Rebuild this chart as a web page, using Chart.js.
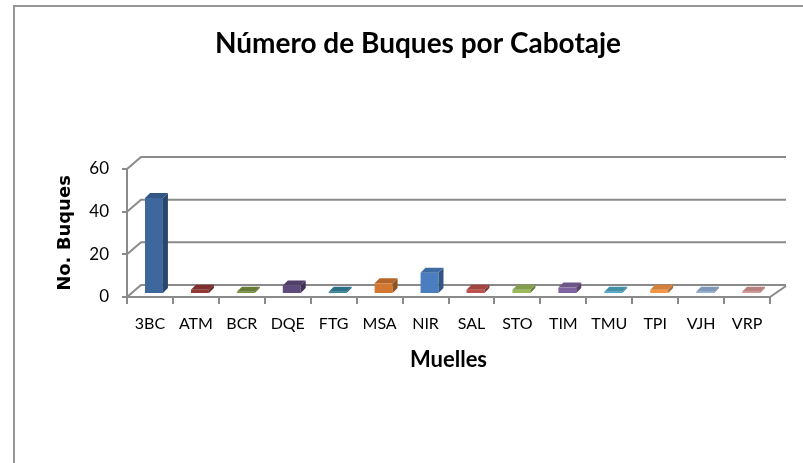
<!DOCTYPE html>
<html>
<head>
<meta charset="utf-8">
<script src="https://cdn.jsdelivr.net/npm/chart.js@4.4.1/dist/chart.umd.min.js"></script>
<style>
  html, body { margin: 0; padding: 0; background: #fff; }
  canvas { display: block; }
</style>
</head>
<body>
<canvas id="c" width="803" height="463"></canvas>
<script>
// ---- data ----
const categories = ['3BC','ATM','BCR','DQE','FTG','MSA','NIR','SAL','STO','TIM','TMU','TPI','VJH','VRP'];
const buques = [45, 2, 1, 4, 1, 5, 10, 2, 2, 3, 1, 2, 1, 1];
const yTickValues = [0, 20, 40, 60];
const chartTitle = 'Número de Buques por Cabotaje';
const xTitle = 'Muelles';
const yTitle = 'No. Buques';

// ---- styles ----
const barColors = ['#3D679D','#953735','#76923C','#5F4A7D','#31859C','#D27830','#4A7EC0',
                   '#C0504D','#9BBB59','#8064A2','#4BACC6','#F79646','#95B3D7','#D99694'];
const lineColor = '#8a8a8a';
const DEPTH_X = 14, DEPTH_Y = 12;   // wall depth
const BAR_DX = 5, BAR_DY = 5;       // bar depth
const BAR_SHIFT_X = 4, BAR_SHIFT_Y = -3;

function shade(hex, f) {
  const n = parseInt(hex.slice(1), 16);
  let r = (n >> 16) & 255, g = (n >> 8) & 255, b = n & 255;
  r = Math.round(r * f); g = Math.round(g * f); b = Math.round(b * f);
  return `rgb(${Math.min(255,r)},${Math.min(255,g)},${Math.min(255,b)})`;
}

const frame3d = {
  id: 'frame3d',
  beforeDraw(chart) {
    const ctx = chart.ctx;
    ctx.save();
    ctx.fillStyle = '#fff';
    ctx.fillRect(0, 0, chart.width, chart.height);
    ctx.strokeStyle = '#969696';
    ctx.lineWidth = 2;
    ctx.beginPath();
    ctx.moveTo(14, chart.height + 2);
    ctx.lineTo(14, 6);
    ctx.lineTo(chart.width + 2, 6);
    ctx.stroke();
    ctx.restore();
  },
  beforeDatasetsDraw(chart) {
    const ctx = chart.ctx;
    const {left, right, bottom} = chart.chartArea;
    const ys = chart.scales.y;
    ctx.save();
    ctx.strokeStyle = lineColor;
    ctx.lineWidth = 2;
    ctx.lineCap = 'butt';
    yTickValues.forEach(v => {
      const y = ys.getPixelForValue(v);
      ctx.beginPath();
      ctx.moveTo(left, y);
      ctx.lineTo(left + DEPTH_X, y - DEPTH_Y);
      ctx.lineTo(right + 16, y - DEPTH_Y);
      ctx.stroke();
    });
    // floor front edge and right edge
    ctx.beginPath();
    ctx.moveTo(left, bottom);
    ctx.lineTo(right, bottom);
    ctx.lineTo(right + 16, bottom - DEPTH_Y + 1);
    ctx.stroke();
    ctx.restore();
    // shift bars to mid-depth
    ctx.save();
    ctx.translate(BAR_SHIFT_X, BAR_SHIFT_Y);
  },
  afterDatasetsDraw(chart) {
    const ctx = chart.ctx;
    const meta = chart.getDatasetMeta(0);
    meta.data.forEach((el, i) => {
      const p = el.getProps(['x','y','base','width'], true);
      const x0 = p.x - p.width / 2, x1 = p.x + p.width / 2;
      const top = Math.min(p.y, p.base), base = Math.max(p.y, p.base);
      const c = barColors[i % barColors.length];
      // side face
      ctx.fillStyle = shade(c, 0.68);
      ctx.beginPath();
      ctx.moveTo(x1, top);
      ctx.lineTo(x1 + BAR_DX, top - BAR_DY);
      ctx.lineTo(x1 + BAR_DX, base - BAR_DY);
      ctx.lineTo(x1, base);
      ctx.closePath();
      ctx.fill();
      // top face
      ctx.fillStyle = shade(c, 0.85);
      ctx.beginPath();
      ctx.moveTo(x0, top);
      ctx.lineTo(x0 + BAR_DX, top - BAR_DY);
      ctx.lineTo(x1 + BAR_DX, top - BAR_DY);
      ctx.lineTo(x1, top);
      ctx.closePath();
      ctx.fill();
    });
    ctx.restore();
  }
};

new Chart(document.getElementById('c'), {
  type: 'bar',
  data: {
    labels: categories,
    datasets: [{
      data: buques,
      backgroundColor: barColors,
      borderWidth: 0,
      barPercentage: 0.39,
      categoryPercentage: 1,
      clip: false
    }]
  },
  options: {
    responsive: false,
    animation: false,
    devicePixelRatio: 1,
    layout: { padding: { left: 33, right: 0, top: 0, bottom: 0 } },
    plugins: {
      legend: { display: false },
      tooltip: { enabled: false },
      title: {
        display: true,
        text: chartTitle,
        color: '#000',
        font: { family: 'Lato', size: 28, weight: 'bold' },
        padding: { top: 27, bottom: 108.4 }
      }
    },
    scales: {
      x: {
        grid: { display: true, drawOnChartArea: false, drawTicks: true, tickLength: 7,
                color: lineColor, lineWidth: 2, offset: true },
        border: { display: false },
        ticks: { color: '#000', font: { family: 'Lato', size: 16 }, padding: 10,
                 maxRotation: 0, autoSkip: false },
        title: { display: true, text: xTitle, color: '#000',
                 font: { family: 'Lato', size: 22, weight: 'bold' },
                 padding: { top: 0, bottom: 90 } },
        afterFit(s) { s.height = 166; }
      },
      y: {
        min: 0, max: 60,
        afterBuildTicks(s) { s.ticks = yTickValues.map(v => ({ value: v })); },
        grid: { display: true, drawOnChartArea: false, tickLength: 5, color: lineColor, lineWidth: 2 },
        border: { display: true, color: lineColor, width: 2 },
        ticks: { color: '#000', font: { family: 'Lato', size: 17 }, padding: 13 },
        title: { display: true, text: yTitle, color: '#000',
                 font: { family: 'DejaVu Sans', size: 18, weight: 'bold' },
                 padding: { top: 22, bottom: 0 } },
        afterFit(s) { s.width = 94; }
      },
      yRight: {
        type: 'linear',
        position: 'right',
        display: true,
        grid: { display: false },
        border: { display: false },
        ticks: { display: false },
        afterFit(s) { s.width = 33; }
      }
    }
  },
  plugins: [frame3d]
});
</script>
</body>
</html>
